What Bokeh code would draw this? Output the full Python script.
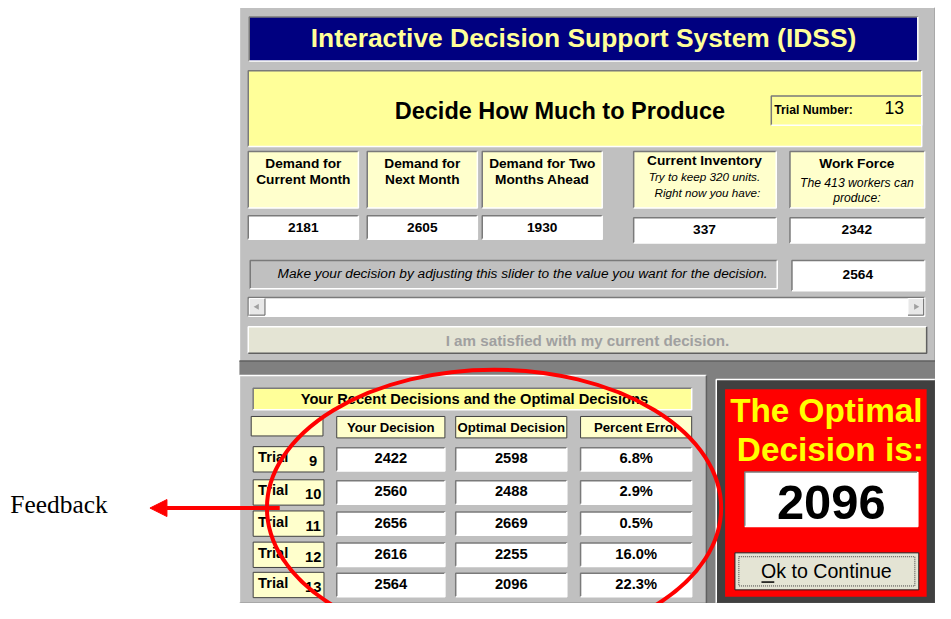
from bokeh.plotting import figure
from bokeh.models import Range1d, Arrow, NormalHead
from bokeh.core.properties import value
from bokeh.embed import file_html
from bokeh.resources import INLINE

# ---------------- data ----------------
app_title = "Interactive Decision Support System (IDSS)"
task_title = "Decide How Much to Produce"
trial_number = 13
demand_headers = [["Demand for", "Current Month"], ["Demand for", "Next Month"], ["Demand for Two", "Months Ahead"]]
demand_values = [2181, 2605, 1930]
target_inventory = 320
current_inventory = 337
workers = 413
workforce_capacity = 2342
current_decision = 2564
trials = [9, 10, 11, 12, 13]
your_decision = [2422, 2560, 2656, 2616, 2564]
optimal_decision = [2598, 2488, 2669, 2255, 2096]
percent_error = [6.8, 2.9, 0.5, 16.0, 22.3]
optimal_now = 2096
column_headers = ["Your Decision", "Optimal Decision", "Percent Error"]

SANS = "Liberation Sans"
SERIF = "Liberation Serif"

W, H = 935, 603
FS = 0.978  # text scale so the 951x619 design fits the 935x603 plot
p = figure(width=W, height=H, x_range=Range1d(0, 951), y_range=Range1d(619, 0),
           output_backend="svg", toolbar_location=None, min_border=0,
           x_axis_location=None, y_axis_location=None)
p.grid.visible = False
p.outline_line_color = None
p.background_fill_color = "white"
p.border_fill_color = "white"

GRAY = "#C0C0C0"
DARK = "#808080"


def box(x0, y0, x1, y1, fill, bevel="sunken", lw=1.5, outline=None):
    p.quad(left=[x0], right=[x1], top=[y0], bottom=[y1], fill_color=fill,
           line_color=outline, line_width=1)
    if bevel:
        d, l = ("#7A7A7A", "#FFFFFF") if bevel == "sunken" else ("#FFFFFF", "#606060")
        p.line([x0, x0, x1], [y1, y0, y0], line_color=d, line_width=lw)
        p.line([x0, x1, x1], [y1, y1, y0], line_color=l, line_width=lw)


def txt(x, y, s, size, color="black", style="bold", font=SANS, align="center", baseline="middle"):
    p.text(x=[x], y=[y], text=[s], text_font=value(font), text_font_size=f"{size * FS:.1f}px",
           text_font_style=style, text_color=color, text_align=align, text_baseline=baseline)


# ---------------- panels ----------------
p.quad(left=[243], right=[951], top=[7], bottom=[619], fill_color=DARK, line_color=None)
box(243, 7, 951, 370, GRAY, bevel="raised")
box(243, 385, 718, 619, GRAY, bevel="raised")
box(728, 389, 951, 619, "#404040", bevel="raised")
p.quad(left=[737], right=[942], top=[399], bottom=[612], fill_color="#FF0000", line_color=None)

# title bar
box(253, 17, 933, 62, "#000080")
txt(593, 38, app_title, 27, color="#FFFF99", style="bold")

# task header
box(252, 72, 937, 150, "#FFFF99")
txt(569, 113, task_title, 24)
box(784, 98, 937, 128, "#FFFF99")
txt(787, 112, "Trial  Number:", 12.5, align="left")
txt(909, 110, str(trial_number), 18, style="normal")

# demand boxes
dcols = [(252, 364), (373, 485), (490, 612)]
for (a, b), hdr, v in zip(dcols, demand_headers, demand_values):
    c = (a + b) / 2
    box(a, 155, b, 213, "#FFFFCC")
    txt(c, 167, hdr[0], 14)
    txt(c, 184, hdr[1], 14)
    box(a, 221, b, 245, "white")
    txt(c, 233, str(v), 14)

# inventory
box(644, 155, 789, 213, "#FFFFCC")
txt(716, 164, "Current Inventory", 14)
txt(716, 181, f"Try to keep {target_inventory} units.", 12, style="italic")
txt(719, 197, "Right now you have:", 12, style="italic")
box(644, 223, 789, 249, "white")
txt(716, 235, str(current_inventory), 14)

# work force
box(803, 155, 940, 213, "#FFFFCC")
txt(871, 167, "Work Force", 14)
txt(871, 187, f"The {workers} workers can", 12.5, style="italic")
txt(871, 203, "produce:", 12.5, style="italic")
box(803, 223, 940, 249, "white")
txt(871, 235, str(workforce_capacity), 14)

# slider row
box(254, 267, 790, 296, GRAY)
txt(531, 280, "Make your decision by adjusting this slider to the value you want for the decision.",
    14, style="italic")
box(805, 267, 940, 298, "white")
txt(872, 281, str(current_decision), 14)

# scrollbar
box(252, 305, 940, 324, "white")
box(253, 306, 269, 323, "#E8E8E8", bevel="raised", lw=1)
box(923, 306, 939, 323, "#E8E8E8", bevel="raised", lw=1)
p.triangle(x=[261, 931], y=[314.5, 314.5], size=6, angle=[1.5708, -1.5708],
           fill_color="#A0A0A0", line_color=None)

# satisfied button
box(252, 335, 942, 362, "#E4E4D4", bevel="raised")
txt(597, 349, "I am satisfied with my current decision.", 15.5, color="#A0A0A0")

# ---------------- table ----------------
box(257, 398, 703, 420, "#FFFF99")
txt(482, 409.5, "Your Recent Decisions and the Optimal Decisions", 15)
box(255, 427, 328, 447, "#FFFFCC", bevel=None, outline="#404040")
tcols = [(342, 452), (463, 576), (590, 703)]
for (a, b), h in zip(tcols, column_headers):
    box(a, 427, b, 449, "#FFFFCC", bevel=None, outline="#404040")
    txt((a + b) / 2, 438, h, 13.5)

row_top = [458, 492, 524, 556, 587]
for i, t in enumerate(trials):
    y0 = row_top[i]
    box(257, y0, 329, y0 + 26, "#FFFFCC", bevel=None, outline="#404040")
    txt(262, y0 + 11, "Trial", 15, align="left")
    txt(318, y0 + 15, str(t), 15)
    vals = [str(your_decision[i]), str(optimal_decision[i]), f"{percent_error[i]:.1f}%"]
    for (a, b), s in zip(tcols, vals):
        box(a, y0 + 1, b, y0 + 25, "white")
        txt((a + b) / 2, y0 + 12, s, 15)

# ---------------- optimal decision panel ----------------
txt(840, 421, "The Optimal", 34, color="#FFFF00")
txt(844, 461, "Decision is:", 34, color="#FFFF00")
box(757, 484, 933, 540, "white")
txt(845, 515, str(optimal_now), 50)
box(747, 567, 934, 605, "#E4E4D4", bevel=None, outline="#202020")
p.quad(left=[751], right=[930], top=[571], bottom=[601], fill_color=None,
       line_color="#404040", line_dash="1 1", line_width=1)
txt(840, 586, "Ok to Continue", 20, style="normal")
p.line([774, 787], [597, 597], line_color="black", line_width=1.5)

# ---------------- annotation ----------------
p.ellipse(x=[502], y=[521], width=[462], height=[284], fill_color=None,
          line_color="#FF0000", line_width=4)
p.add_layout(Arrow(end=NormalHead(size=17, fill_color="#FF0000", line_color="#FF0000"),
                   x_start=284, y_start=521, x_end=152, y_end=521,
                   line_color="#FF0000", line_width=4))
txt(10, 517, "Feedback", 26, style="normal", font=SERIF, align="left", baseline="alphabetic")

open("out.html", "w").write(file_html(p, INLINE))
